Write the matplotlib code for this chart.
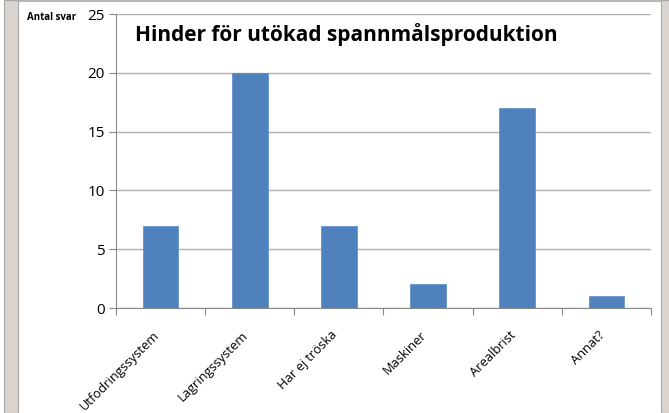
import matplotlib.pyplot as plt
import matplotlib.transforms as mtransforms
from matplotlib.patches import Rectangle

# Data
categories = ['Utfodringssystem', 'Lagringssystem', 'Har ej tröska',
              'Maskiner', 'Arealbrist', 'Annat?']
answers = [7, 20, 7, 2, 17, 1]
y_ticks = [0, 5, 10, 15, 20, 25]

plt.rcParams['font.family'] = ['Open Sans', 'DejaVu Sans']

fig = plt.figure(figsize=(6.69, 4.13), dpi=100)
W, H = 669, 413

# grey window frame around the chart (left and right strips)
beige = '#dbd4ce'
edge = '#a8a8a8'
fig.patches.append(Rectangle((4 / W, 0), 14 / W, 1, transform=fig.transFigure,
                             facecolor=beige, edgecolor=edge, lw=0.8))
fig.patches.append(Rectangle((661 / W, 0), 10 / W, 1, transform=fig.transFigure,
                             facecolor=beige, edgecolor=edge, lw=0.8))
fig.add_artist(plt.Line2D([18 / W, 661 / W], [1 - 0.5 / H, 1 - 0.5 / H],
                          transform=fig.transFigure, color=edge, lw=1.2))

ax = fig.add_axes([116 / W, 1 - 308 / H, (651 - 116) / W, (308 - 14) / H])
x = range(len(categories))
ax.bar(x, answers, width=0.4, color='#4f81bd', edgecolor='#5b8cc8', lw=0.5, zorder=3)

ax.set_xlim(-0.5, len(categories) - 0.5)
ax.set_ylim(0, 25)
ax.set_yticks(y_ticks)
ax.yaxis.grid(True, color='#b0b0b0', lw=1, zorder=0)
ax.tick_params(axis='y', length=5, color='#888888', labelsize=11, pad=3)
for s in ['top', 'right']:
    ax.spines[s].set_visible(False)
for s in ['left', 'bottom']:
    ax.spines[s].set_color('#888888')

# category separators as major ticks, labels on minor ticks at bar centres
ax.set_xticks([i + 0.5 for i in range(-1, len(categories))], minor=False)
ax.set_xticklabels([''] * (len(categories) + 1))
ax.tick_params(axis='x', length=5, color='#888888', direction='out')
ax.set_xticks(list(x), minor=True)
ax.set_xticklabels(categories, minor=True, rotation=45, ha='right', va='top',
                   rotation_mode='anchor', fontsize=9.3)
ax.tick_params(axis='x', which='minor', length=0, pad=14)
shift = mtransforms.ScaledTranslation(-8 / 100, -1 / 100, fig.dpi_scale_trans)
for lbl in ax.get_xticklabels(minor=True):
    lbl.set_transform(lbl.get_transform() + shift)

fig.text(27 / W, 1 - 17 / H, 'Antal svar', fontsize=7, fontweight='bold', va='center')
ax.text(0.035, 0.93, 'Hinder för utökad spannmålsproduktion', transform=ax.transAxes,
        fontsize=15, fontweight='bold', va='center')

fig.savefig('out.png', dpi=100)
